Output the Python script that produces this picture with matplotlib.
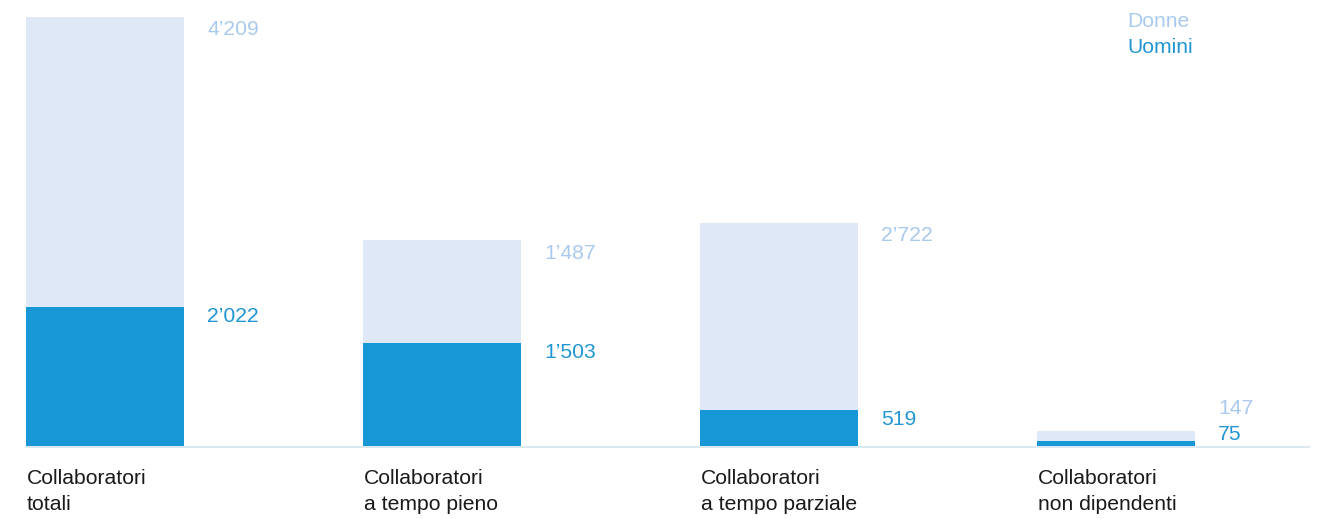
import matplotlib.pyplot as plt

plt.rcParams['font.family'] = ['Liberation Sans', 'DejaVu Sans']

# data
categories = ["Collaboratori\ntotali", "Collaboratori\na tempo pieno",
              "Collaboratori\na tempo parziale", "Collaboratori\nnon dipendenti"]
uomini = [2022, 1503, 519, 75]
donne = [4209, 1487, 2722, 147]
uomini_lbl = ["2\u2019022", "1\u2019503", "519", "75"]
donne_lbl = ["4\u2019209", "1\u2019487", "2\u2019722", "147"]

CLR_U = '#1797d5'
CLR_D = '#dee8f6'
TXT_U = '#2196d3'
TXT_D = '#a9caee'
LINE = '#dbe8f1'
FS = 15.2

fig = plt.figure(figsize=(13.26, 5.19), dpi=100)
ax = fig.add_axes([0, 0, 1, 1])

W = 158 / 337.0
x = list(range(len(categories)))
ax.bar(x, uomini, width=W, color=CLR_U, linewidth=0, zorder=2)
ax.bar(x, donne, width=W, bottom=uomini, color=CLR_D, linewidth=0, zorder=2)

# baseline
ax.plot([-W / 2, 3.623 - 16 / 337.0], [-10, -10], color=LINE, lw=1.5,
        solid_capstyle='butt', zorder=1)

lx = W / 2 + 23 / 337.0
for i in x:
    tot = uomini[i] + donne[i]
    if i == len(x) - 1:
        # small bar: labels moved apart
        ax.annotate(donne_lbl[i], (i + lx, tot), xytext=(0, 9), textcoords='offset points',
                    color=TXT_D, fontsize=FS, va='bottom', ha='left')
        ax.annotate(uomini_lbl[i], (i + lx, tot), xytext=(0, 4), textcoords='offset points',
                    color=TXT_U, fontsize=FS, va='top', ha='left')
    else:
        ax.annotate(donne_lbl[i], (i + lx, tot), xytext=(0, -2.5), textcoords='offset points',
                    color=TXT_D, fontsize=FS, va='top', ha='left')
        ax.annotate(uomini_lbl[i], (i + lx, uomini[i]), xytext=(0, 0), textcoords='offset points',
                    color=TXT_U, fontsize=FS, va='top', ha='left')
    ax.text(i - W / 2 + 1 / 337.0, -335, categories[i], color='#1a1a1a', fontsize=FS,
            va='top', ha='left', linespacing=1.45)

# legend
ax.text(0.85, 0.959, "Donne", transform=ax.transAxes, color=TXT_D, fontsize=FS, va='center')
ax.text(0.85, 0.909, "Uomini", transform=ax.transAxes, color=TXT_U, fontsize=FS, va='center')

ax.set_xlim(-105 / 337.0, (1326 - 105) / 337.0)
ax.set_ylim(-1060, 6478)
ax.axis('off')

fig.savefig('out.png', dpi=100)
